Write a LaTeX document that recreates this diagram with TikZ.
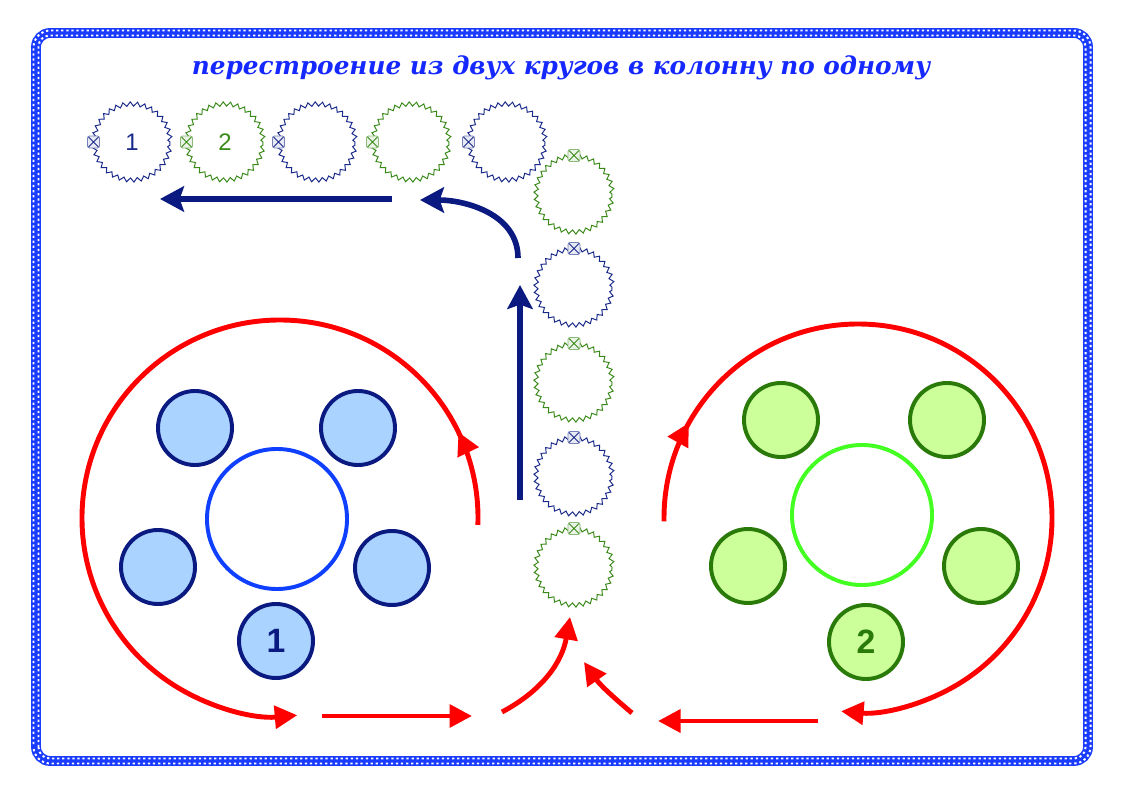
\documentclass[tikz,border=0pt]{standalone}
\usepackage{fontspec}
\usepackage{tikz}
\usetikzlibrary{arrows.meta,calc,decorations.pathmorphing,decorations.markings}
\newfontfamily\titlefont{DejaVu Serif}
\newfontfamily\numfont{Liberation Sans}
\definecolor{frameblue}{HTML}{1A3CFF}
\definecolor{titleblue}{HTML}{1428FF}
\definecolor{route}{HTML}{FF0000}
\definecolor{navy}{HTML}{0A1A80}
\definecolor{skyfill}{HTML}{AAD4FF}
\definecolor{ringblue}{HTML}{1040FF}
\definecolor{leafdark}{HTML}{2A7A0A}
\definecolor{leaffill}{HTML}{CCFF99}
\definecolor{ringgreen}{HTML}{44FF22}
\definecolor{stitchB}{HTML}{1A2A8A}
\definecolor{stitchG}{HTML}{3A8A1A}

\begin{document}
\begin{tikzpicture}[x=0.025cm,y=0.025cm,
  redline/.style={draw=route, line width=3.5pt},
  blueline/.style={draw=navy, line width=4pt},
  redtip/.style={-{Triangle[length=16pt,width=16pt]}},
  bluetip/.style={-{Stealth[length=17pt,width=18pt,inset=3pt]}},
  midtip/.style={postaction={decorate}, decoration={markings,
      mark=at position #1 with {\arrow{Triangle[length=16pt,width=16pt]}}}},
  seatA/.style={circle, draw=navy, fill=skyfill, line width=2.8pt,
      minimum size=1.85cm, inner sep=0pt, text=navy,
      font=\numfont\bfseries\fontsize{24}{24}\selectfont},
  seatB/.style={seatA, draw=leafdark, fill=leaffill, text=leafdark},
  ring/.style={circle, draw=#1, line width=2.8pt, minimum size=3.5cm, inner sep=0pt},
  stitch/.style={circle, draw=#1, minimum size=1.9cm, inner sep=0pt,
      line width=0.7pt, decorate,
      decoration={zigzag, segment length=5pt, amplitude=1.5pt}},
  tagbox/.style={rectangle, rounded corners=1.5pt, draw=#1!60, fill=#1!10,
      line width=0.6pt, minimum size=8.5pt, inner sep=0pt,
      path picture={\draw[#1, line width=0.6pt]
        (path picture bounding box.north west) -- (path picture bounding box.south east)
        (path picture bounding box.south west) -- (path picture bounding box.north east);}}]
  \useasboundingbox (0,0) rectangle (1123,794);

  % Frame
  \draw[frameblue, line width=7pt, rounded corners=10pt] (36,33) rectangle (1088,761);
  \draw[white, line width=1.4pt, dash pattern=on 1.6pt off 2pt, rounded corners=8pt]
    (38.5,35.5) rectangle (1085.5,758.5);
  \draw[white, line width=1.4pt, dash pattern=on 1.6pt off 2pt, dash phase=1.8pt,
    rounded corners=12pt] (33.5,30.5) rectangle (1090.5,763.5);

  % Title
  \node[font=\titlefont\bfseries\itshape\fontsize{17.6}{21}\selectfont, text=titleblue]
    (title) at (561,726) {перестроение из двух кругов в колонну по одному};

  % Circle 1
  \coordinate (c1) at (280,276);
  \node[ring=ringblue] (ring1) at (277,275) {};
  \node[seatA] (a1) at (195,366) {};
  \node[seatA] (a2) at (358,366) {};
  \node[seatA] (a3) at (158,227) {};
  \node[seatA] (a4) at (392,226) {};
  \node[seatA] (a5) at (276,153) {1};
  \draw[redline, redtip, midtip=0.1] ($(c1)+(-2:198)$) arc[start angle=-2, end angle=275, radius=198];

  % Circle 2
  \coordinate (c2) at (858,276);
  \node[ring=ringgreen] (ring2) at (862,279) {};
  \node[seatB] (b1) at (781,374) {};
  \node[seatB] (b2) at (947,374) {};
  \node[seatB] (b3) at (748,228) {};
  \node[seatB] (b4) at (981,228) {};
  \node[seatB] (b5) at (866,152) {2};
  \draw[redline, redtip, midtip=0.11] ($(c2)+(181:194)$) arc[start angle=181, end angle=-95, radius=194];

  % Joining the column
  \coordinate (p1) at (322,78);
  \coordinate (p2) at (472,78);
  \coordinate (p3) at (502,82);
  \coordinate (p4) at (570,177);
  \coordinate (q1) at (818,73);
  \coordinate (q2) at (658,73);
  \coordinate (q3) at (632,81);
  \coordinate (q4) at (584,132);
  \draw[redline, redtip] (p1) -- (p2);
  \draw[redline, redtip] (p3) to[out=28, in=-100] (p4);
  \draw[redline, redtip] (q1) -- (q2);
  \draw[redline, redtip] (q3) to[out=140, in=-55] (q4);

  % Column
  \foreach \y/\c [count=\i] in {600/stitchG,507/stitchB,412/stitchG,318/stitchB,227/stitchG}{
    \node[stitch=\c] (k\i) at (574,\y) {};
    \node[tagbox=\c] (kt\i) at (k\i.north) {};
  }
  \foreach \x/\c [count=\i] in {132/stitchB,225/stitchG,317/stitchB,411/stitchG,507/stitchB}{
    \node[stitch=\c] (r\i) at (\x,652) {};
    \node[tagbox=\c] (rt\i) at (r\i.west) {};
  }
  \node[text=stitchB, font=\numfont\fontsize{17}{17}\selectfont] (n1) at (r1) {1};
  \node[text=stitchG, font=\numfont\fontsize{17}{17}\selectfont] (n2) at (r2) {2};

  % Blue arrows
  \coordinate (u1) at (520,294);
  \coordinate (u2) at (520,509);
  \coordinate (u3) at (518,536);
  \coordinate (u4) at (420,594);
  \coordinate (u5) at (392,595);
  \coordinate (u6) at (160,595);
  \draw[blueline, bluetip] (u1) -- (u2);
  \draw[blueline, bluetip] (u3) to[out=90, in=0] (u4);
  \draw[blueline, bluetip] (u5) -- (u6);
\end{tikzpicture}
\end{document}
